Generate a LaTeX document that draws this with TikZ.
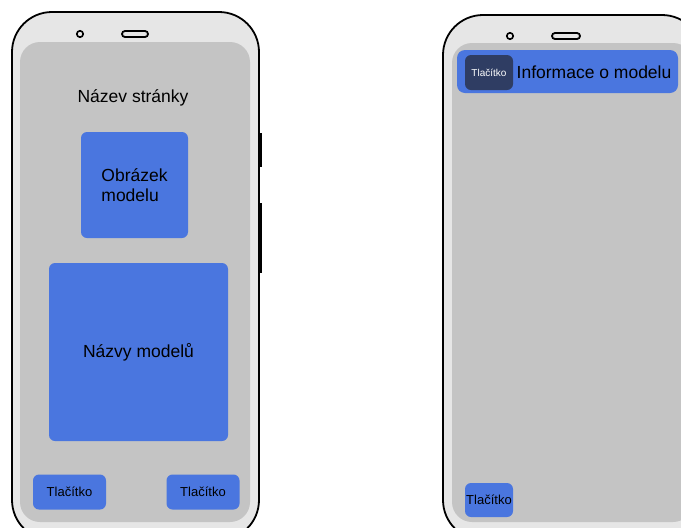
\documentclass[tikz,border=0pt]{standalone}
\usepackage{fontspec}
\setmainfont{Liberation Sans}
\usepackage{tikz}

\definecolor{telo}{HTML}{E6E6E6}
\definecolor{displej}{HTML}{C4C4C4}
\definecolor{modra}{HTML}{4A76DF}
\definecolor{tmava}{HTML}{2F3D63}

\begin{document}
\begin{tikzpicture}[x=1pt, y=-1pt,
    body/.style={draw=black, line width=1.8pt, fill=telo, rounded corners=40pt},
    screen/.style={fill=displej, rounded corners=20pt},
    box/.style={fill=modra, rounded corners=6pt, inner sep=0pt, text=black},
    tlacitko/.style={box, minimum width=73pt, minimum height=35pt, font=\fontsize{13}{15}\selectfont}]
\useasboundingbox (0,0) rectangle (681,528);
\clip (0,0) rectangle (681,528);

% levy telefon
\fill (255,133) rectangle (261.5,167);
\fill (255,203) rectangle (261.5,273);
\draw[body] (12,12) rectangle (259,540);
\fill[screen] (20,42) rectangle (250,522);
\draw[line width=1.6pt] (80,34) circle (3.2);
\draw[line width=1.8pt, rounded corners=3pt] (122,31) rectangle (148,37);

\node[font=\fontsize{17.5}{21}\selectfont] (nazevstranky) at (133,98) {Název stránky};
\node[box, minimum width=107pt, minimum height=106pt, align=left,
      font=\fontsize{17.5}{20}\selectfont] (obrazek) at (134.5,185) {Obrázek\\modelu};
\node[box, minimum width=179pt, minimum height=178pt,
      font=\fontsize{17.5}{21}\selectfont] (nazvy) at (138.5,352) {Názvy modelů};
\node[tlacitko] (tlacitkoL) at (69.5,492) {Tlačítko};
\node[tlacitko] (tlacitkoP) at (203,492) {Tlačítko};

% pravy telefon
\draw[body] (443,15) rectangle (702,540);
\fill[screen] (452,43) rectangle (693,522);
\draw[line width=1.6pt] (510,36) circle (3.2);
\draw[line width=1.8pt, rounded corners=3pt] (552,33) rectangle (580,39);

\node[box, rounded corners=8pt, minimum width=221pt, minimum height=43pt] (hlavicka) at (567.5,71.5) {};
\node[box, fill=tmava, minimum width=48pt, minimum height=35pt, text=white,
      font=\fontsize{10}{12}\selectfont] (zpet) at (489,72.5) {Tlačítko};
\node[anchor=west, inner sep=0pt, font=\fontsize{17.5}{21}\selectfont] (informace) at (516.5,72) {Informace o modelu};
\node[box, minimum width=48pt, minimum height=34pt,
      font=\fontsize{13}{15}\selectfont] (tlacitkoDole) at (489,500) {Tlačítko};
\end{tikzpicture}
\end{document}
